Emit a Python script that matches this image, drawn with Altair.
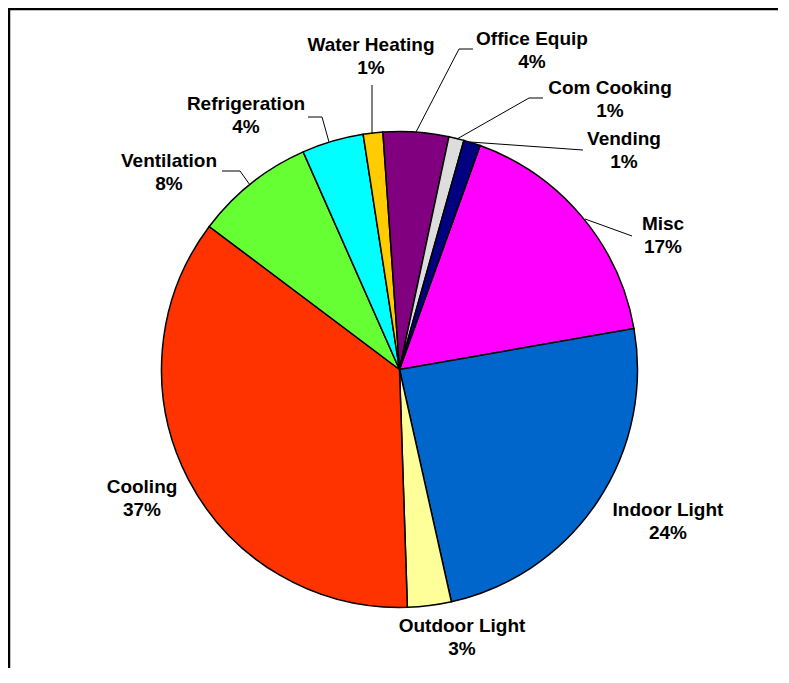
import math
import altair as alt
import pandas as pd

# ---- data ----
categories = ["Misc", "Indoor Light", "Outdoor Light", "Cooling", "Ventilation",
              "Refrigeration", "Water Heating", "Office Equip", "Com Cooking", "Vending"]
values = [16.75, 24.25, 2.97, 35.78, 8.11, 4.19, 1.33, 4.44, 1.03, 1.14]
pct_labels = ["17%", "24%", "3%", "37%", "8%", "4%", "1%", "4%", "1%", "1%"]
colors = ["#FF00FF", "#0066CC", "#FFFF99", "#FF3300", "#66FF33",
          "#00FFFF", "#FFCC00", "#800080", "#DDDDDD", "#000080"]

# ---- layout (annotation placement, chart pixel space) ----
W, H = 770, 660
CX, CY, R = 391.5, 361.5, 238
START = math.radians(19.8)

# position of the first text line of each label
label_x = [655, 660, 454, 134, 161, 238, 363, 524, 602, 616]
label_y = [216, 502, 618, 479, 153, 96, 37, 31, 80, 131]

leader_segments = [
    (364, 77, 364, 126),
    (465, 41, 451, 41), (451, 41, 408, 124),
    (535, 90, 521, 90), (521, 90, 449, 131),
    (462, 134, 575, 142),
    (577, 211, 624, 228),
    (300, 109, 314, 109), (314, 109, 321, 134),
    (214, 163, 232, 163), (232, 163, 242, 177),
]

df = pd.DataFrame({
    "category": categories,
    "value": values,
    "idx": list(range(len(categories))),
    "label": [f"{c}\n{p}" for c, p in zip(categories, pct_labels)],
    "lx": label_x,
    "ly": label_y,
})

seg_df = pd.DataFrame(leader_segments, columns=["x", "y", "x2", "y2"])
frame_df = pd.DataFrame({"k": [0]})

arcs = alt.Chart(df).mark_arc(stroke="black", strokeWidth=1.5, radius=R).encode(
    theta=alt.Theta("value:Q", stack=True,
                    scale=alt.Scale(range=[START, START + 2 * math.pi])),
    color=alt.Color("category:N", scale=alt.Scale(domain=categories, range=colors),
                    legend=None),
    order=alt.Order("idx:Q", sort="ascending"),
    x=alt.value(CX),
    y=alt.value(CY),
)

leaders = alt.Chart(seg_df).mark_rule(color="black", strokeWidth=1).encode(
    x=alt.X("x:Q", scale=None),
    y=alt.Y("y:Q", scale=None),
    x2="x2:Q",
    y2="y2:Q",
)

labels = alt.Chart(df).mark_text(
    font="Liberation Sans", fontWeight="bold", fontSize=19,
    lineBreak="\n", lineHeight=23, align="center", baseline="middle", color="black",
).encode(
    x=alt.X("lx:Q", scale=None),
    y=alt.Y("ly:Q", scale=None),
    text="label:N",
)

# outer chart frame: its right and bottom sides fall outside the page, as in the reference
frame = alt.Chart(frame_df).mark_rect(fill=None, stroke="black", strokeWidth=2.5).encode(
    x=alt.value(1), y=alt.value(1), x2=alt.value(W + 40), y2=alt.value(H + 40)
)

chart = alt.layer(arcs, leaders, labels, frame).properties(
    width=W, height=H, autosize="none", padding=0, background="white"
).configure_view(stroke=None)

chart.save("out.html", embed_options={"renderer": "svg", "actions": False})
